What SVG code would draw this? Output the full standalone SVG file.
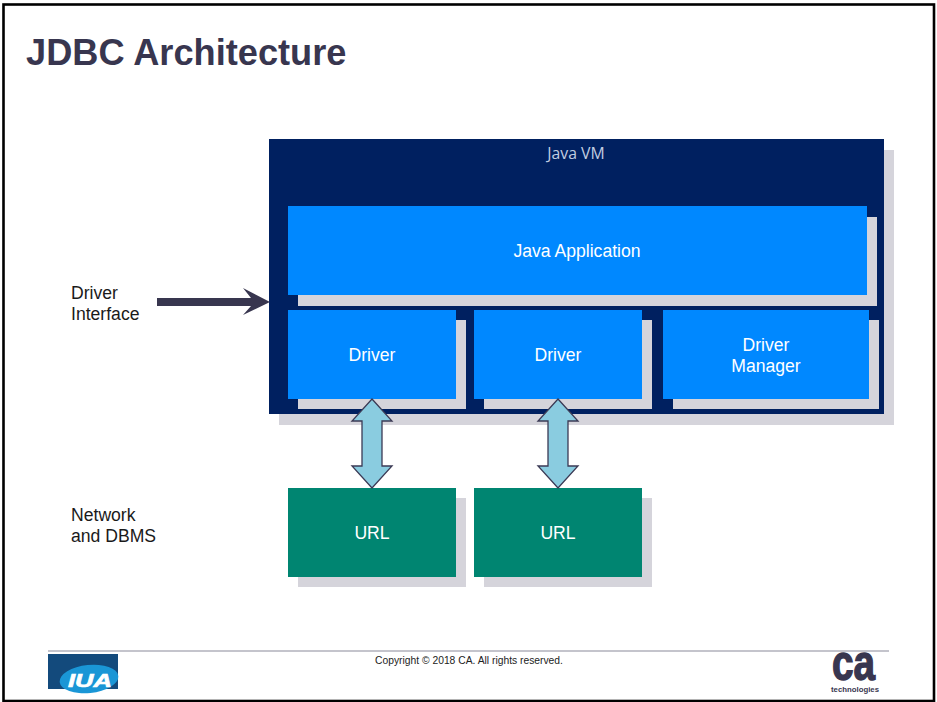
<svg xmlns="http://www.w3.org/2000/svg" width="937" height="702" viewBox="0 0 937 702">
<style>
.s{fill:#d5d4db}
.b{fill:#0088ff}
.g{fill:#008571}
.t{font-family:"Liberation Sans",Arial,sans-serif;font-size:17.6px;fill:#fff;text-anchor:middle}
.l{font-family:"Liberation Sans",Arial,sans-serif;font-size:17.6px;fill:#1a1a1a}
.a{fill:#8accE0;stroke:#3b3a55;stroke-width:1.3}
</style>
<rect x="0" y="0" width="937" height="702" fill="#fff"/>
<rect x="3.5" y="4.5" width="930.5" height="696.5" fill="none" stroke="#000" stroke-width="2.6"/>
<text x="26" y="64.500" font-family="'Liberation Sans',Arial,sans-serif" font-size="36.2" font-weight="700" fill="#38364f">JDBC Architecture</text>
<g id="java-vm">
<rect class="s" x="279" y="150" width="615" height="275"/>
<rect x="269" y="139" width="615" height="275" fill="#002060"/>
<text x="576" y="159" text-anchor="middle" font-family="'Open Sans',sans-serif" font-size="15.8" fill="#c0cde0">Java VM</text>
</g>
<g id="java-application">
<rect class="s" x="298" y="217" width="579" height="89"/>
<rect class="b" x="288" y="206" width="579" height="89"/>
<text class="t" x="577" y="257">Java Application</text>
</g>
<g id="driver-1">
<rect class="s" x="298" y="320" width="168" height="89"/>
<rect class="b" x="288" y="310" width="168" height="89"/>
<text class="t" x="372" y="361">Driver</text>
</g>
<g id="driver-2">
<rect class="s" x="484" y="320" width="168" height="89"/>
<rect class="b" x="474" y="310" width="168" height="89"/>
<text class="t" x="558" y="361">Driver</text>
</g>
<g id="driver-manager">
<rect class="s" x="673" y="320" width="206" height="89"/>
<rect class="b" x="663" y="310" width="206" height="89"/>
<text class="t" x="766" y="351">Driver</text>
<text class="t" x="766" y="372">Manager</text>
</g>
<g id="url-1">
<rect class="s" x="298" y="498" width="168" height="89"/>
<rect class="g" x="288" y="488" width="168" height="89"/>
<text class="t" x="372" y="539">URL</text>
</g>
<g id="url-2">
<rect class="s" x="484" y="498" width="168" height="89"/>
<rect class="g" x="474" y="488" width="168" height="89"/>
<text class="t" x="558" y="539">URL</text>
</g>
<g id="label-driver-interface">
<text class="l" x="71" y="299">Driver</text>
<text class="l" x="71" y="320">Interface</text>
</g>
<g id="label-network">
<text class="l" x="71" y="521">Network</text>
<text class="l" x="71" y="542">and DBMS</text>
</g>
<g id="connectors">
<polygon fill="#38364f" points="157,298 251,298 243,288 270,302 243,315 251,306 157,306"/>
<polygon class="a" points="372,399 392,421 382,421 382,466 392,466 372,488 352,466 362,466 362,421 352,421"/>
<polygon class="a" points="558,399 578,421 568,421 568,466 578,466 558,488 538,466 548,466 548,421 538,421"/>
</g>
<g id="footer">
<line x1="48" y1="651" x2="889" y2="651" stroke="#8a8a9a" stroke-width="1.2"/>
<text x="469" y="664" text-anchor="middle" font-family="'Liberation Sans',Arial,sans-serif" font-size="10.3" fill="#222">Copyright © 2018 CA. All rights reserved.</text>
</g>
<g id="logo-iua">
<rect x="48" y="654" width="70" height="35" fill="#134a7c"/>
<ellipse cx="89" cy="679" rx="29.5" ry="14" fill="#1a96d6" transform="rotate(-6 89 679)"/>
<text x="90" y="687" text-anchor="middle" font-family="'Liberation Sans',Arial,sans-serif" font-size="18" font-weight="700" font-style="italic" fill="#fff" stroke="#fff" stroke-width="0.6" textLength="44" lengthAdjust="spacingAndGlyphs">IUA</text>
</g>
<g id="logo-ca">
<text x="853.500" y="680" text-anchor="middle" font-family="'Liberation Sans',Arial,sans-serif" font-size="50" font-weight="700" fill="#38364f" stroke="#38364f" stroke-width="1.4" textLength="43" lengthAdjust="spacingAndGlyphs">ca</text>
<text x="855" y="692" text-anchor="middle" font-family="'Liberation Sans',Arial,sans-serif" font-size="8" font-weight="700" fill="#38364f" textLength="48" lengthAdjust="spacingAndGlyphs">technologies</text>
</g>
</svg>
